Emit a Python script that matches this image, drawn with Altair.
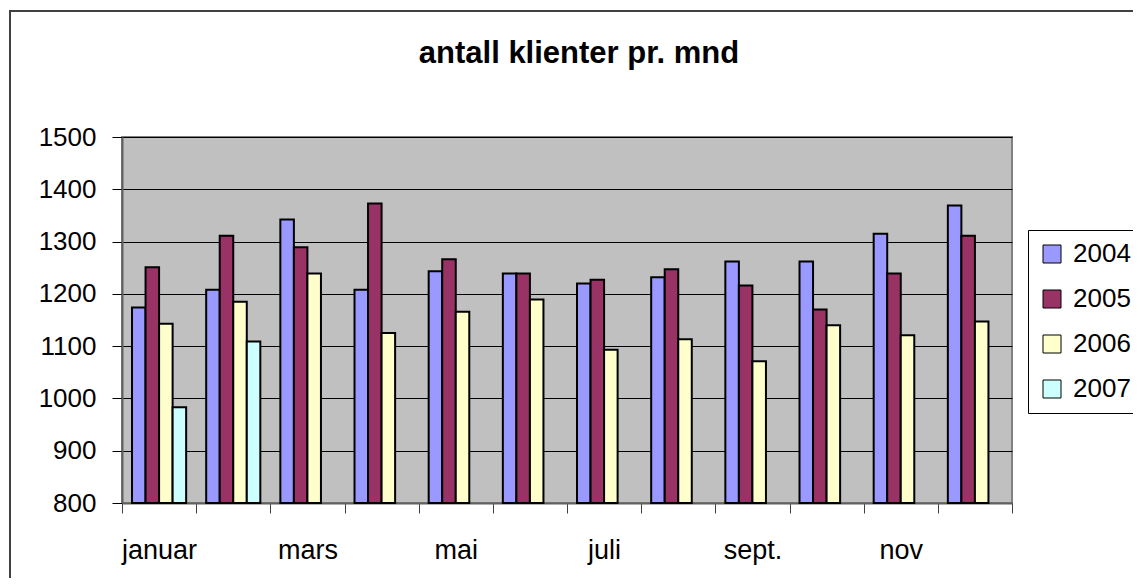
import json
import altair as alt
import pandas as pd

# ---- data ----
months = ["januar", "februar", "mars", "april", "mai", "juni",
          "juli", "august", "sept.", "okt.", "nov", "des."]
shown_labels = ["januar", "mars", "mai", "juli", "sept.", "nov"]
years = ["2004", "2005", "2006", "2007"]
v2004 = [1174, 1208, 1342, 1208, 1243, 1239, 1220, 1232, 1262, 1262, 1315, 1369]
v2005 = [1251, 1311, 1289, 1373, 1266, 1239, 1227, 1247, 1216, 1170, 1239, 1311]
v2006 = [1143, 1185, 1239, 1125, 1166, 1189, 1093, 1113, 1071, 1140, 1121, 1147]
v2007 = [983, 1109]
y_ticks = [800, 900, 1000, 1100, 1200, 1300, 1400, 1500]
colors = ["#9999FF", "#993366", "#FFFFCC", "#CCFFFF"]
title_text = "antall klienter pr. mnd"

rows = []
for year, vals in zip(years, [v2004, v2005, v2006, v2007]):
    for m, v in zip(months, vals):
        rows.append({"month": m, "year": year, "value": v})
df = pd.DataFrame(rows)

FONT = "Liberation Sans"
label_expr = "indexof(%s, datum.value) >= 0 ? datum.value : ''" % json.dumps(shown_labels).replace('"', "'")

bars = alt.Chart(df).mark_bar(stroke="black", strokeWidth=2).encode(
    x=alt.X("month:N", sort=months,
            scale=alt.Scale(domain=months, paddingInner=0, paddingOuter=0),
            axis=alt.Axis(title=None, tickBand="extent", labelExpr=label_expr,
                          tickSize=10, tickColor="#404040", tickWidth=1,
                          domainColor="#606060", domainWidth=2,
                          labelPadding=24, labelFontSize=27, labelFont=FONT,
                          labelColor="black", labelAngle=0, grid=False)),
    xOffset=alt.XOffset("year:N",
                        scale=alt.Scale(domain=years, paddingInner=0, paddingOuter=0.74)),
    y=alt.Y("value:Q",
            scale=alt.Scale(domain=[800, 1500], nice=False, zero=False),
            axis=alt.Axis(title=None, values=y_ticks, format="d", tickSize=10,
                          tickColor="black", domainColor="#606060", domainWidth=2,
                          labelPadding=16, labelFontSize=26, labelFont=FONT,
                          labelColor="black", grid=True, gridColor="black",
                          gridWidth=1)),
    y2=alt.datum(800),
    fill=alt.Fill("year:N", scale=alt.Scale(domain=years, range=colors),
                  legend=alt.Legend(title=None, orient="none", legendX=906, legendY=93,
                                    strokeColor="black", fillColor="white",
                                    padding=11, symbolType="square", symbolSize=324,
                                    symbolStrokeColor="black", symbolStrokeWidth=1,
                                    labelFontSize=26, labelFont=FONT, labelColor="black",
                                    rowPadding=19, labelOffset=8)),
)

border = alt.Chart(pd.DataFrame({"k": [0]})).mark_rect(
    fill="white", fillOpacity=0, stroke="#404040", strokeWidth=2
).encode(x=alt.value(-112), x2=alt.value(1100), y=alt.value(-126), y2=alt.value(700))

chart = alt.layer(border, bars).properties(
    width=890, height=366,
    title=alt.TitleParams(title_text, fontSize=31, font=FONT, fontWeight="bold",
                          anchor="middle", frame="group", offset=-60, dx=12,
                          color="black"),
    autosize=alt.AutoSizeParams(type="none"),
    padding={"left": 114, "top": 129, "right": 121, "bottom": 75},
    background="white",
).configure_view(fill="#C0C0C0", stroke="#808080", strokeWidth=2)

chart.save("out.html", embed_options={"renderer": "svg", "actions": False})
